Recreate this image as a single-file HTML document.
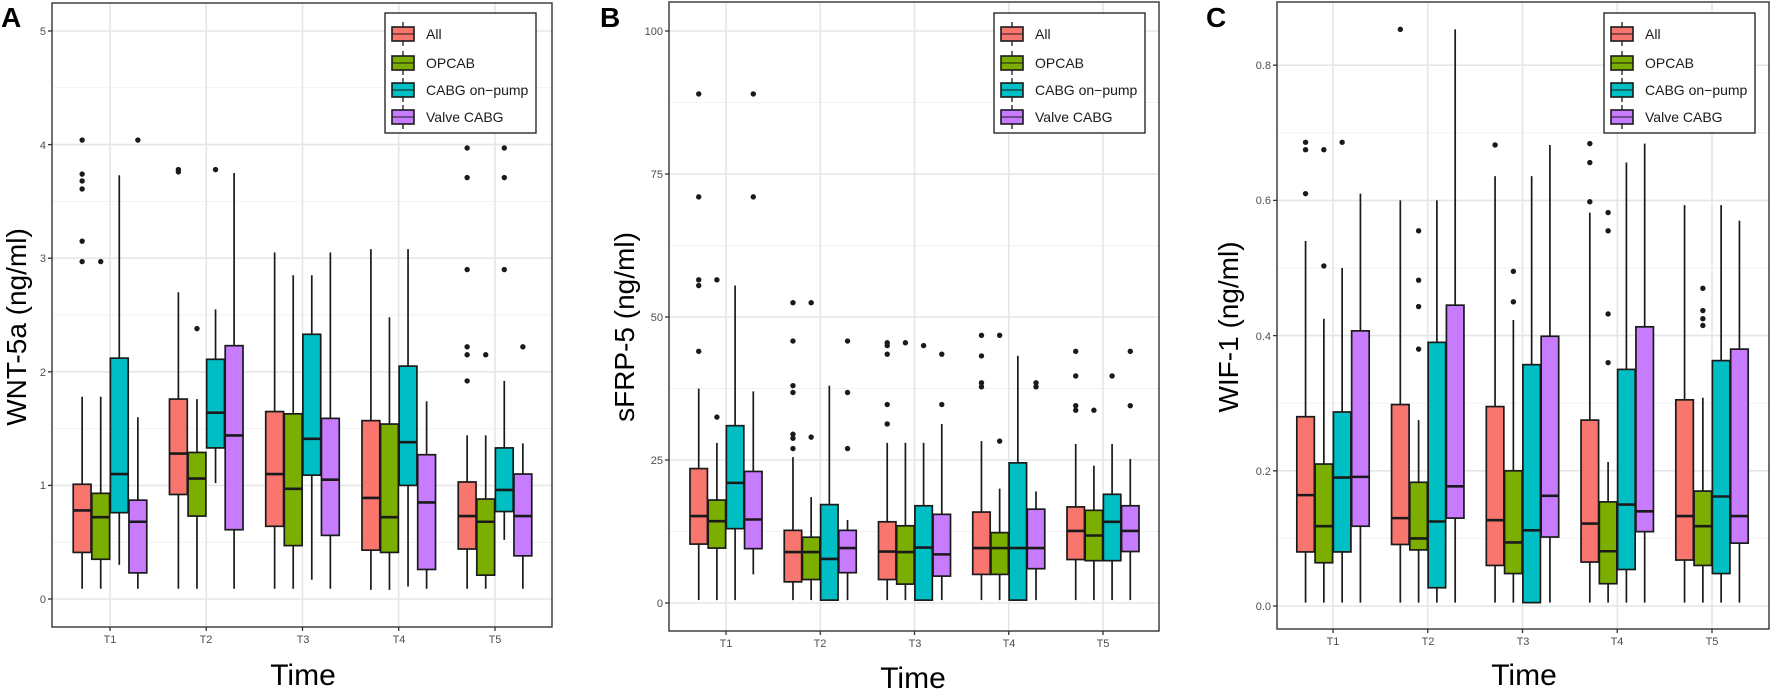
<!DOCTYPE html>
<html><head><meta charset="utf-8"><style>
html,body{margin:0;padding:0;background:#fff;}
svg{display:block;font-family:"Liberation Sans",Arial,sans-serif;}
.tk{font-size:11px;fill:#4d4d4d;}
.lg{font-size:14px;fill:#1a1a1a;}
.ti{font-size:28px;fill:#000;}
.tt{font-size:30px;fill:#000;}
.pl{font-size:28px;font-weight:bold;fill:#000;}
</style></head><body>
<svg id="s" width="1772" height="692" viewBox="0 0 1772 692" xmlns="http://www.w3.org/2000/svg">
<g id="g"></g>
<text class="pl" x="1" y="27">A</text>
<text class="pl" x="600" y="27">B</text>
<text class="pl" x="1206" y="27">C</text>
<text class="ti" transform="translate(26,327) rotate(-90)" text-anchor="middle">WNT-5a (ng/ml)</text>
<text class="ti" transform="translate(634,327) rotate(-90)" text-anchor="middle">sFRP-5 (ng/ml)</text>
<text class="ti" transform="translate(1238,327) rotate(-90)" text-anchor="middle">WIF-1 (ng/ml)</text>
<text class="tt" x="303" y="685" text-anchor="middle">Time</text>
<text class="tt" x="913" y="688" text-anchor="middle">Time</text>
<text class="tt" x="1524" y="685" text-anchor="middle">Time</text>
<g class="tk" text-anchor="end">
<text x="46" y="603">0</text><text x="46" y="489">1</text><text x="46" y="376">2</text><text x="46" y="262">3</text><text x="46" y="149">4</text><text x="46" y="35">5</text>
<text x="663" y="607">0</text><text x="663" y="464">25</text><text x="663" y="321">50</text><text x="663" y="178">75</text><text x="663" y="35">100</text>
<text x="1271" y="610">0.0</text><text x="1271" y="475">0.2</text><text x="1271" y="340">0.4</text><text x="1271" y="204">0.6</text><text x="1271" y="69">0.8</text>
</g>
<g class="tk" text-anchor="middle">
<text x="110" y="643">T1</text><text x="206" y="643">T2</text><text x="303" y="643">T3</text><text x="399" y="643">T4</text><text x="495" y="643">T5</text>
<text x="726" y="647">T1</text><text x="820" y="647">T2</text><text x="915" y="647">T3</text><text x="1009" y="647">T4</text><text x="1103" y="647">T5</text>
<text x="1333" y="645">T1</text><text x="1428" y="645">T2</text><text x="1523" y="645">T3</text><text x="1617" y="645">T4</text><text x="1712" y="645">T5</text>
</g>
<g id="leg"></g>
<g class="lg">
<text x="426" y="39">All</text><text x="426" y="68">OPCAB</text><text x="426" y="95">CABG on−pump</text><text x="426" y="122">Valve CABG</text>
<text x="1035" y="39">All</text><text x="1035" y="68">OPCAB</text><text x="1035" y="95">CABG on−pump</text><text x="1035" y="122">Valve CABG</text>
<text x="1645" y="39">All</text><text x="1645" y="68">OPCAB</text><text x="1645" y="95">CABG on−pump</text><text x="1645" y="122">Valve CABG</text>
</g>
</svg>
<script>
var C=["#F8766D","#7CAE00","#00BFC4","#C77CFF"];
var P=[
{L:52,R:552,T:3,B:627,x0:110,st:96.25,y0:599,k:113.6,maj:[0,1,2,3,4,5],mn:[0.5,1.5,2.5,3.5,4.5],leg:[385,13,536,133],
d:[
[[1.78,1.01,.78,.41,.09,[4.04,3.74,3.68,3.61,3.15,2.97]],[1.78,.93,.72,.35,.09,[2.97]],[3.73,2.12,1.10,.76,.30,[]],[1.60,.87,.68,.23,.09,[4.04]]],
[[2.70,1.76,1.28,.92,.09,[3.76,3.78]],[1.76,1.29,1.06,.73,.09,[2.38]],[2.55,2.11,1.64,1.33,1.02,[3.78]],[3.75,2.23,1.44,.61,.09,[]]],
[[3.05,1.65,1.10,.64,.09,[]],[2.85,1.63,.97,.47,.09,[]],[2.85,2.33,1.41,1.09,.17,[]],[3.05,1.59,1.05,.56,.09,[]]],
[[3.08,1.57,.89,.43,.08,[]],[2.48,1.54,.72,.41,.08,[]],[3.08,2.05,1.38,1.00,.11,[]],[1.74,1.27,.85,.26,.09,[]]],
[[1.44,1.03,.73,.44,.09,[3.97,3.71,2.90,2.22,2.15,1.92]],[1.44,.88,.68,.21,.09,[2.15]],[1.92,1.33,.96,.77,.52,[3.97,3.71,2.90]],[1.37,1.10,.73,.38,.09,[2.22]]]
]},
{L:669,R:1159,T:2,B:631,x0:726,st:94.25,y0:603,k:5.72,maj:[0,25,50,75,100],mn:[12.5,37.5,62.5,87.5],leg:[994,13,1145,133],
d:[
[[37.5,23.5,15.2,10.3,.5,[89,71,56.5,55.5,44]],[28,18,14.3,9.6,.5,[56.5,32.5]],[55.5,31,21,13,.5,[]],[37,23,14.6,9.5,5,[89,71]]],
[[25.5,12.7,8.9,3.7,.5,[52.5,45.8,38,36.8,29.5,28.8,27]],[18.5,11.5,8.9,4.1,.5,[52.5,29]],[38,17.2,7.7,.5,.5,[]],[14.5,12.7,9.6,5.3,.5,[45.8,36.8,27]]],
[[28,14.2,9,4.1,.5,[45.5,45,43.5,34.7,31.3]],[28,13.5,8.9,3.3,.5,[45.5]],[28,17,9.7,.5,.5,[45]],[31.3,15.5,8.5,4.7,.5,[43.5,34.7]]],
[[28.3,15.9,9.6,5,.5,[46.8,43.2,38.5,37.8]],[20,12.3,9.6,5,.5,[46.8,28.3]],[43.2,24.5,9.6,.5,.5,[]],[19.5,16.4,9.6,6,.5,[38.5,37.8]]],
[[27.8,16.8,12.6,7.6,.5,[44,39.7,34.5,33.7]],[24,16.2,11.8,7.4,.5,[33.7]],[27.8,19,14.2,7.4,.5,[39.7]],[25.2,17,12.6,9,.5,[44,34.5]]]
]},
{L:1277,R:1769,T:2,B:629,x0:1333,st:94.75,y0:606,k:676,maj:[0,.2,.4,.6,.8],mn:[.1,.3,.5,.7],leg:[1604,13,1755,133],
d:[
[[.54,.28,.164,.08,.005,[.686,.675,.61]],[.425,.21,.118,.064,.005,[.675,.503]],[.5,.287,.19,.08,.005,[.686]],[.61,.407,.191,.118,.005,[]]],
[[.6,.298,.13,.091,.005,[.853]],[.275,.183,.1,.083,.005,[.555,.482,.443,.38]],[.6,.39,.125,.027,.005,[]],[.853,.445,.177,.13,.005,[]]],
[[.636,.295,.127,.06,.005,[.682]],[.423,.2,.094,.048,.005,[.495,.45]],[.636,.357,.112,.005,.005,[]],[.682,.399,.163,.102,.005,[]]],
[[.582,.275,.122,.065,.005,[.684,.656,.598]],[.213,.154,.081,.033,.005,[.582,.555,.432,.36]],[.656,.35,.15,.054,.005,[]],[.684,.413,.14,.11,.005,[]]],
[[.593,.305,.133,.068,.005,[]],[.308,.17,.118,.06,.005,[.47,.437,.425,.415]],[.593,.363,.162,.048,.005,[]],[.57,.38,.133,.093,.005,[]]]
]}];
var h="";
P.forEach(function(p){
 var Y=function(v){return p.y0-p.k*v;};
 p.mn.forEach(function(v){h+='<line x1="'+p.L+'" x2="'+p.R+'" y1="'+Y(v)+'" y2="'+Y(v)+'" stroke="#f2f2f2" stroke-width="1"/>';});
 p.maj.forEach(function(v){h+='<line x1="'+p.L+'" x2="'+p.R+'" y1="'+Y(v)+'" y2="'+Y(v)+'" stroke="#e6e6e6" stroke-width="1.6"/>';
  h+='<line x1="'+(p.L-4)+'" x2="'+p.L+'" y1="'+Y(v)+'" y2="'+Y(v)+'" stroke="#333" stroke-width="1.3"/>';});
 for(var i=0;i<5;i++){var x=p.x0+p.st*i;
  h+='<line x1="'+x+'" x2="'+x+'" y1="'+p.T+'" y2="'+p.B+'" stroke="#e6e6e6" stroke-width="1.6"/>';
  h+='<line x1="'+x+'" x2="'+x+'" y1="'+p.B+'" y2="'+(p.B+4)+'" stroke="#333" stroke-width="1.3"/>';}
 var sp=p.st*0.193,w=p.st*0.185;
 p.d.forEach(function(gr,i){var xc=p.x0+p.st*i;
  gr.forEach(function(b,j){var x=xc+(j-1.5)*sp;
   h+='<line x1="'+x+'" x2="'+x+'" y1="'+Y(b[0])+'" y2="'+Y(b[4])+'" stroke="#1a1a1a" stroke-width="1.7"/>';
   h+='<rect x="'+(x-w/2)+'" y="'+Y(b[1])+'" width="'+w+'" height="'+(Y(b[3])-Y(b[1]))+'" fill="'+C[j]+'" stroke="#1a1a1a" stroke-width="1.7"/>';
   h+='<line x1="'+(x-w/2)+'" x2="'+(x+w/2)+'" y1="'+Y(b[2])+'" y2="'+Y(b[2])+'" stroke="#1a1a1a" stroke-width="2.6"/>';
   b[5].forEach(function(o){h+='<circle cx="'+x+'" cy="'+Y(o)+'" r="2.7" fill="#1a1a1a"/>';});
  });});
 h+='<rect x="'+p.L+'" y="'+p.T+'" width="'+(p.R-p.L)+'" height="'+(p.B-p.T)+'" fill="none" stroke="#333" stroke-width="1.4"/>';
 var l=p.leg;
 h+='<rect x="'+l[0]+'" y="'+l[1]+'" width="'+(l[2]-l[0])+'" height="'+(l[3]-l[1])+'" fill="#fff" stroke="#1a1a1a" stroke-width="1.3"/>';
 var kx=l[0]+7;
 [34,63,90,117].forEach(function(yy,j){
  h+='<line x1="'+(kx+11)+'" x2="'+(kx+11)+'" y1="'+(yy-12)+'" y2="'+(yy+12)+'" stroke="#1a1a1a" stroke-width="1.3"/>';
  h+='<rect x="'+kx+'" y="'+(yy-7)+'" width="22" height="14" fill="'+C[j]+'" stroke="#1a1a1a" stroke-width="1.6"/>';
  h+='<line x1="'+kx+'" x2="'+(kx+22)+'" y1="'+yy+'" y2="'+yy+'" stroke="#1a1a1a" stroke-width="1"/>';
 });
});
document.getElementById("g").innerHTML=h;
</script>
</body></html>
